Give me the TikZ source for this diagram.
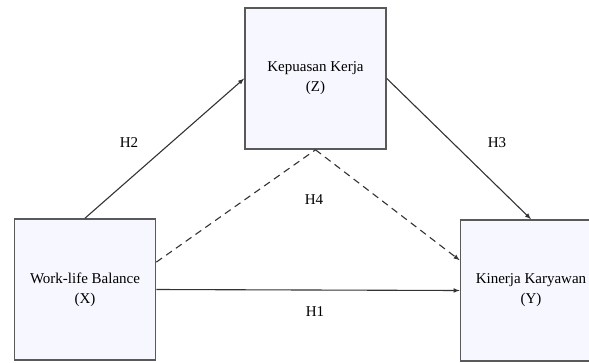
\documentclass[tikz,border=0pt]{standalone}
\usepackage{fontspec}
\setmainfont{Liberation Serif}
\usetikzlibrary{arrows}

\begin{document}
\begin{tikzpicture}[x=1pt,y=-1pt,->,>=latex,line width=1.1pt,draw=black!80,
  var/.style={draw=black!65,line width=1.6pt,minimum width=141pt,minimum height=141pt,
    fill=blue!3,align=center,inner sep=0pt,
    font=\fontsize{15}{20}\selectfont},
  hyp/.style={font=\fontsize{15}{16}\selectfont},
  dashline/.style={dash pattern=on 7pt off 5pt}]

\useasboundingbox (0,0) rectangle (589,362);

\node[var] (X) at (85,289.5)  {Work-life Balance\\(X)};
\node[var] (Z) at (315.5,78.5) {Kepuasan Kerja\\(Z)};
\node[var] (Y) at (531,290.5) {Kinerja Karyawan\\(Y)};

\node[hyp] (H1) at (315,312) {H1};
\node[hyp] (H2) at (129,143) {H2};
\node[hyp] (H3) at (497,143) {H3};
\node[hyp] (H4) at (314,200) {H4};

\path
	(X.north) edge (Z.west)
	(Z.east)  edge (Y.north)
	(X.east)  edge (Y.west)
	(X.21)    edge[dashline,-] (Z.south)
	(Z.south) edge[dashline] (Y.157);
\end{tikzpicture}
\end{document}
